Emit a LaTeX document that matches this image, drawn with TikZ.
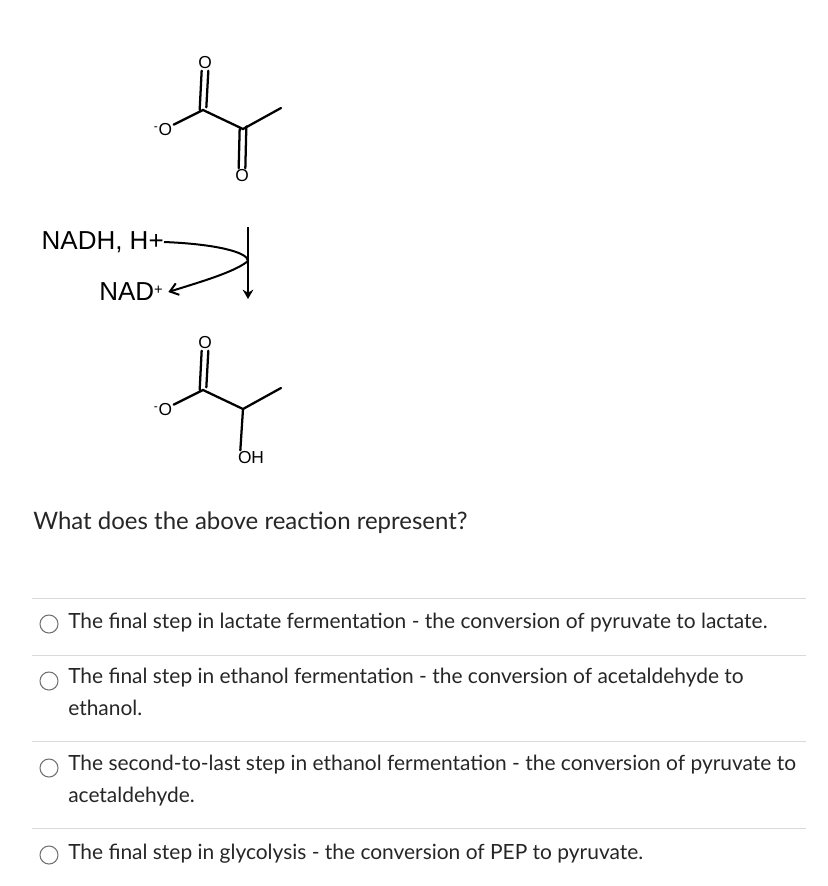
\documentclass[tikz,border=0pt]{standalone}
\usepackage{fontspec}
\setmainfont{Lato}
\newfontfamily\chemfont{Liberation Sans}
\usetikzlibrary{positioning, arrows.meta}
\tikzset{%
  bond/.style   = {line width = 1.7pt, line cap = round},
  atom/.style   = {font = \chemfont\fontsize{13}{13}\selectfont, inner sep = 1pt},
  reagent/.style = {font = \chemfont\fontsize{19.5}{20}\selectfont, inner sep = 0pt},
  answer/.style = {anchor = west, align = left, inner sep = 0pt,
    font = \fontsize{15.7}{23.5}\selectfont, text = black!85},
  radio/.style  = {draw = black!55, line width = 0.8pt, circle, minimum size = 13.5pt, inner sep = 0pt},
  rule/.style   = {draw = black!15, line width = 0.6pt}
}
\begin{document}
\begin{tikzpicture}[x = 0.75pt, y = -0.75pt]
\useasboundingbox (0,0) rectangle (828,886);
% pyruvate
\node[atom] (oa) at (205,63) {O};
\node[atom] (ma) at (163,130) {\textsuperscript{-}O};
\node[atom] (ob) at (242,176) {O};
\coordinate (ca) at (203,110);
\coordinate (cb) at (243,129);
\coordinate (ea) at (281,108);
\draw[bond] (ma) -- (ca) -- (cb) -- (ea);
\draw[bond] ([xshift = -2.5]oa.south) -- ([xshift = -2.5]ca);
\draw[bond] ([xshift = 2.5]oa.south) -- ([xshift = 2.5, yshift = 2]ca);
\draw[bond] ([xshift = -2.5]cb) -- ([xshift = -2.5]ob.north);
\draw[bond] ([xshift = 2.5, yshift = 2]cb) -- ([xshift = 2.5]ob.north);
% reaction arrow
\coordinate (top) at (248,227);
\coordinate (bot) at (248,299);
\coordinate (meet) at (248,261);
\node[reagent, anchor = east] (nadh) at (164,242) {NADH, H+};
\node[reagent, anchor = east] (nad) at (163,292) {NAD{\fontsize{11}{11}\selectfont\raisebox{5pt}{+}}};
\draw[line width = 1.5pt, -{Stealth[length = 7pt, width = 8pt]}] (top) -- (bot);
\draw[line width = 1.5pt, -{Straight Barb[length = 6pt, width = 9pt]}]
  (nadh.east) .. controls (215,244) and (248,252) .. (meet)
  .. controls (235,272) and (200,282) .. ([xshift = 4]nad.east);
% lactate
\node[atom] (oc) at (205,343) {O};
\node[atom] (mc) at (163,410) {\textsuperscript{-}O};
\node[atom] (oh) at (251,458) {OH};
\coordinate (cc) at (203,390);
\coordinate (cd) at (243,409);
\coordinate (ec) at (281,388);
\draw[bond] (mc) -- (cc) -- (cd) -- (ec);
\draw[bond] (cd) -- ([xshift = -8]oh.north);
\draw[bond] ([xshift = -2.5]oc.south) -- ([xshift = -2.5]cc);
\draw[bond] ([xshift = 2.5]oc.south) -- ([xshift = 2.5, yshift = 2]cc);
% question
\node[anchor = west, inner sep = 0pt, font = \fontsize{18}{20}\selectfont, text = black!85]
  (quest) at (33,523) {What does the above reaction represent?};
% answers
\draw[rule] (32,598) coordinate (ra) -- (806,598);
\draw[rule] (32,655) coordinate (rb) -- (806,655);
\draw[rule] (32,741) coordinate (rc) -- (806,741);
\draw[rule] (32,828) coordinate (rd) -- (806,828);
\node[radio] (ba) at (49,624) {};
\node[answer] (aa) at (68,623) {The final step in lactate fermentation - the conversion of pyruvate to lactate.};
\node[radio] (bb) at (49,681) {};
\node[answer, anchor = north west] (ab) at (68,668) {The final step in ethanol fermentation - the conversion of acetaldehyde to\\ethanol.};
\node[radio] (bc) at (49,768) {};
\node[answer, anchor = north west] (ac) at (68,755) {The second-to-last step in ethanol fermentation - the conversion of pyruvate to\\acetaldehyde.};
\node[radio] (bd) at (49,855) {};
\node[answer] (ad) at (68,854) {The final step in glycolysis - the conversion of PEP to pyruvate.};
\end{tikzpicture}
\end{document}
